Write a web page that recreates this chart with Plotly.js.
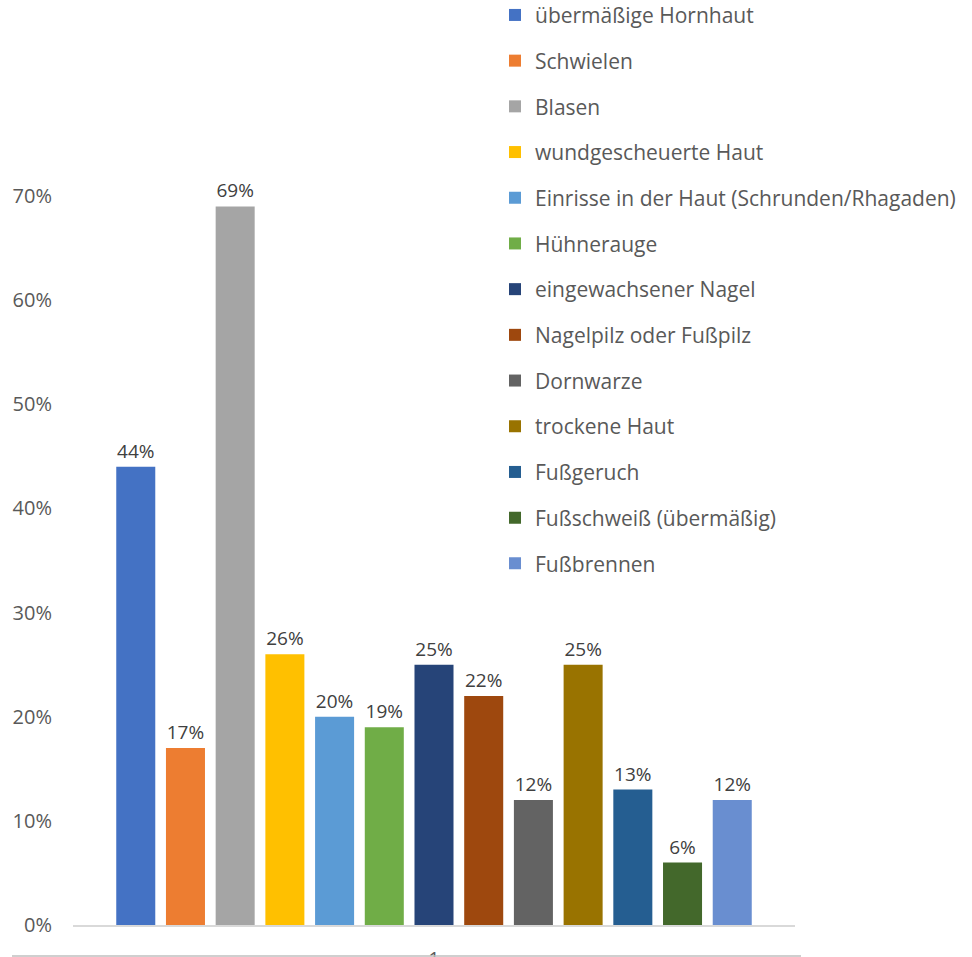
<!DOCTYPE html>
<html>
<head>
<meta charset="utf-8">
<script src="https://cdn.plot.ly/plotly-3.0.1.min.js"></script>
<style>html,body{margin:0;padding:0;background:#fff}#chart{width:972px;height:957px}</style>
</head>
<body>
<div id="chart"></div>
<script>
const category = ['1'];
const seriesNames = [
  'übermäßige Hornhaut',
  'Schwielen',
  'Blasen',
  'wundgescheuerte Haut',
  'Einrisse in der Haut (Schrunden/Rhagaden)',
  'Hühnerauge',
  'eingewachsener Nagel',
  'Nagelpilz oder Fußpilz',
  'Dornwarze',
  'trockene Haut',
  'Fußgeruch',
  'Fußschweiß (übermäßig)',
  'Fußbrennen'
];
const seriesValues = [0.44, 0.17, 0.69, 0.26, 0.20, 0.19, 0.25, 0.22, 0.12, 0.25, 0.13, 0.06, 0.12];
const seriesColors = ['#4472C4', '#ED7D31', '#A5A5A5', '#FFC000', '#5B9BD5', '#70AD47', '#264478', '#9E480E', '#636363', '#997300', '#255E91', '#43682B', '#698ED0'];
const yTickVals = [0, 0.1, 0.2, 0.3, 0.4, 0.5, 0.6, 0.7];
const yTickText = ['0%', '10%', '20%', '30%', '40%', '50%', '60%', '70%'];

const FONT = '"Open Sans", sans-serif';

const traces = seriesNames.map((name, i) => ({
  type: 'bar',
  name: name,
  x: category,
  y: [seriesValues[i]],
  legendgroup: 'g' + i,
  marker: {color: seriesColors[i], line: {width: 0}},
  text: [Math.round(seriesValues[i] * 100) + '%'],
  textposition: 'outside',
  cliponaxis: false,
  textfont: {family: FONT, size: 19, color: '#404040'},
  hoverinfo: 'none'
}));

const layout = {
  width: 972,
  height: 957,
  margin: {l: 73, r: 177, t: 196, b: 32, pad: 0, autoexpand: false},
  paper_bgcolor: '#ffffff',
  plot_bgcolor: '#ffffff',
  barmode: 'group',
  bargap: 0.105,
  bargroupgap: 0.215,
  font: {family: FONT, size: 20, color: '#595959'},
  showlegend: true,
  legend: {
    x: 0.5845, xanchor: 'left',
    y: 1.276, yanchor: 'top',
    traceorder: 'grouped',
    tracegroupgap: 15.4,
    itemwidth: 30,
    maxheight: 2000,
    font: {family: FONT, size: 21, color: '#595959'},
    bgcolor: 'rgba(0,0,0,0)'
  },
  xaxis: {
    type: 'category',
    showgrid: false,
    showline: true,
    linecolor: '#d9d9d9',
    linewidth: 1.5,
    ticks: '',
    ticklabelstandoff: 15,
    tickfont: {family: FONT, size: 20, color: '#595959'},
    fixedrange: true
  },
  yaxis: {
    range: [0, 0.7],
    tickvals: yTickVals,
    ticktext: yTickText,
    showgrid: false,
    zeroline: false,
    showline: false,
    ticks: '',
    ticklabelstandoff: 20,
    tickfont: {family: FONT, size: 20, color: '#595959'},
    fixedrange: true
  },
  shapes: [{
    type: 'line', xref: 'paper', yref: 'paper',
    x0: -0.0845, x1: 1.0083, y0: -0.0425, y1: -0.0425,
    line: {color: '#bfbfbf', width: 1.5}
  }]
};

Plotly.newPlot('chart', traces, layout, {displayModeBar: false, staticPlot: true});
</script>
</body>
</html>
